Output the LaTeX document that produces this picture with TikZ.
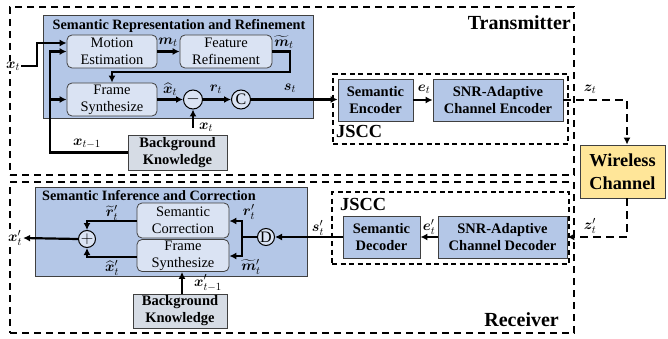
\documentclass[tikz,border=0pt]{standalone}
\usepackage{fontspec}
\setmainfont{Liberation Serif}
\usepackage{amsmath,bm}
\usetikzlibrary{arrows.meta,calc}
\definecolor{blueA}{HTML}{B4C7E7}
\definecolor{blueL}{HTML}{DAE3F3}
\definecolor{grayB}{HTML}{D6DCE5}
\definecolor{yel}{HTML}{FFE699}
\definecolor{edgec}{HTML}{404040}
\begin{document}
\begin{tikzpicture}[x=1pt,y=-1pt,
  outer/.style={draw=black, line width=1.8pt, dash pattern=on 7pt off 5pt},
  jsccbox/.style={draw=black, line width=1.2pt, dash pattern=on 5pt off 3.5pt},
  panel/.style={draw=edgec, fill=blueA, line width=0.8pt},
  rbox/.style={draw=edgec, fill=blueL, rounded corners=5pt, line width=0.8pt, align=center, inner sep=0pt, font=\fontsize{14.5}{17}\selectfont},
  bbox/.style={draw=edgec, fill=blueA, line width=0.8pt, align=center, inner sep=0pt, font=\bfseries\fontsize{14.5}{17}\selectfont},
  kbox/.style={draw=edgec, fill=grayB, line width=0.8pt, align=center, inner sep=0pt, font=\bfseries\fontsize{14.5}{17}\selectfont},
  circ/.style={circle, draw=black, line width=1pt, fill=blueL, inner sep=0pt, minimum size=19pt, font=\fontsize{16}{16}\selectfont},
  lab/.style={inner sep=0pt, font=\fontsize{15}{15}\selectfont},
  ttl/.style={inner sep=0pt, font=\bfseries\fontsize{14.25}{16}\selectfont},
  big/.style={inner sep=0pt, font=\bfseries\fontsize{20}{22}\selectfont},
  conn/.style={line width=2.2pt, -{Latex[length=7pt,width=7pt]}},
  dconn/.style={line width=2.2pt, dash pattern=on 8pt off 5pt, -{Latex[length=7pt,width=7pt]}},
  plain/.style={line width=2.2pt}
]
\useasboundingbox (0,0) rectangle (668,339);

% ---------- Transmitter ----------
\node[outer, minimum width=564pt, minimum height=168pt, inner sep=0pt] (tx) at (292,91) {};
\node[big, anchor=east] (txl) at (571,23) {Transmitter};
\node[panel, minimum width=270pt, minimum height=103pt, inner sep=0pt] (srr) at (178,66.5) {};
\node[ttl] (srrt) at (179,26) {Semantic Representation and Refinement};
\node[rbox, minimum width=90pt, minimum height=33pt] (me) at (112,51.5) {Motion\\Estimation};
\node[rbox, minimum width=92pt, minimum height=33pt] (fr) at (226,51.5) {Feature\\Refinement};
\node[rbox, minimum width=90pt, minimum height=33pt] (fs) at (112,99.5) {Frame\\Synthesize};
\node[circ] (minus) at (193,99.5) {$-$};
\node[circ] (cc) at (241,99.5) {C};
\node[kbox, minimum width=99pt, minimum height=35pt] (bk) at (177.5,152.5) {Background\\Knowledge};

\node[lab, fill=white, inner sep=1pt] (xin) at (13,66) {$\bm{x}_t$};
\node[lab] (xm1) at (87,144) {$\bm{x}_{t-1}$};
\node[lab] (mt) at (168,42) {$\bm{m}_t$};
\node[lab] (mtt) at (284,42) {$\widetilde{\bm{m}}_t$};
\node[lab] (xht) at (170,89) {$\widehat{\bm{x}}_t$};
\node[lab] (rt) at (216,89) {$\bm{r}_t$};
\node[lab] (xb) at (206,127) {$\bm{x}_t$};
\node[lab] (st) at (290,88) {$\bm{s}_t$};

\coordinate (c1) at (37,43);
\coordinate (c2) at (50,51.5);
\coordinate (c3) at (290,72);
\coordinate (c4) at (193,128);
\draw[conn] (xin.east) -| (c1) -- (c1 -| me.west);
\draw[conn] (bk.west) -| (c2) -- (c2 -| me.west);
\draw[conn] (c2 |- fs.west) -- (fs.west);
\draw[conn] (me.east) -- (fr.west);
\draw[conn] (fr.east) -| (c3) -| (fs.north);
\draw[conn] (fs.east) -- (minus.west);
\draw[conn] (minus.east) -- (cc.west);
\draw[conn] (c4) -- (minus.south);

\node[jsccbox, minimum width=235pt, minimum height=70pt, inner sep=0pt] (jt) at (450.5,109) {};
\node[big, font=\bfseries\fontsize{18.4}{20}\selectfont, anchor=west] (jtl) at (336,131) {JSCC};
\node[bbox, minimum width=75pt, minimum height=42pt] (se) at (375.5,100) {Semantic\\Encoder};
\node[bbox, minimum width=130pt, minimum height=42pt] (ce) at (498,100) {SNR-Adaptive\\Channel Encoder};
\node[lab] (et) at (424,89) {$\bm{e}_t$};
\draw[conn] (cc.east) -- (cc.east -| se.west);
\draw[conn] (se.east) -- (ce.west);

% ---------- Channel ----------
\node[draw=edgec, fill=yel, line width=0.8pt, minimum width=85pt, minimum height=53pt, align=center, inner sep=0pt, font=\bfseries\fontsize{18.3}{23}\selectfont] (wc) at (622.5,171.5) {Wireless\\Channel};
\node[lab] (zt) at (590,89) {$\bm{z}_t$};
\node[lab] (zpt) at (590,226) {$\bm{z}'_t$};
\coordinate (c5) at (627,100);
\coordinate (c6) at (627,237);
\draw[dconn] (ce.east) -- (c5) -- (c5 |- wc.north);

% ---------- Receiver ----------
\node[outer, minimum width=564pt, minimum height=151pt, inner sep=0pt] (rx) at (292,257.5) {};
\node[big, anchor=east] (rxl) at (559,320) {Receiver};
\node[panel, minimum width=272pt, minimum height=89pt, inner sep=0pt] (sic) at (171,231.5) {};
\node[ttl, anchor=west] (sict) at (42,196) {Semantic Inference and Correction};
\node[rbox, minimum width=92pt, minimum height=35pt] (sc) at (183,220.5) {Semantic\\Correction};
\node[rbox, minimum width=92pt, minimum height=32pt] (fs2) at (183,255.5) {Frame\\Synthesize};
\node[circ, minimum size=17pt] (plus) at (87,239) {$+$};
\node[circ, minimum size=17pt] (dd) at (266,237) {D};
\node[kbox, minimum width=94pt, minimum height=34pt] (bk2) at (180,311) {Background\\Knowledge};

\node[jsccbox, minimum width=237pt, minimum height=72pt, inner sep=0pt] (jr) at (450.5,228) {};
\node[big, font=\bfseries\fontsize{18.4}{20}\selectfont, anchor=west] (jrl) at (340,204) {JSCC};
\node[bbox, minimum width=77pt, minimum height=42pt] (sd) at (381.5,237) {Semantic\\Decoder};
\node[bbox, minimum width=129pt, minimum height=42pt] (cd) at (502.5,237) {SNR-Adaptive\\Channel Decoder};

\node[lab] (ept) at (429,227) {$\bm{e}'_t$};
\node[lab] (spt) at (318,228) {$\bm{s}'_t$};
\node[lab] (rpt) at (249,212) {$\bm{r}'_t$};
\node[lab] (mpt) at (251,267) {$\widetilde{\bm{m}}'_t$};
\node[lab] (rtp) at (112,213) {$\widetilde{\bm{r}}'_t$};
\node[lab] (xhp) at (112,268) {$\widehat{\bm{x}}'_t$};
\node[lab, fill=white, inner sep=1pt] (xo) at (15,238) {$\bm{x}'_t$};
\node[lab] (xm1p) at (208,283) {$\bm{x}'_{t-1}$};

\coordinate (c7) at (242,237);
\coordinate (c8) at (242,221);
\coordinate (c9) at (242,256);
\coordinate (c10) at (87,221);
\coordinate (c11) at (87,257);
\draw[dconn] (c6 |- wc.south) -- (c6) -- (c6 -| cd.east);
\draw[conn] (cd.west) -- (sd.east);
\draw[conn] (sd.west) -- (dd.east);
\draw[plain] (dd.west) -- (c7);
\draw[conn] (c7) -- (c8) -- (c8 -| sc.east);
\draw[conn] (c7) -- (c9) -- (c9 -| fs2.east);
\draw[conn] (c10 -| sc.west) -- (c10) -- (plus.north);
\draw[conn] (c11 -| fs2.west) -- (c11) -- (plus.south);
\draw[conn] (plus.west) -- (xo.east);
\draw[conn] (bk2.north -| 182,0) -- (fs2.south -| 182,0);
\end{tikzpicture}
\end{document}
